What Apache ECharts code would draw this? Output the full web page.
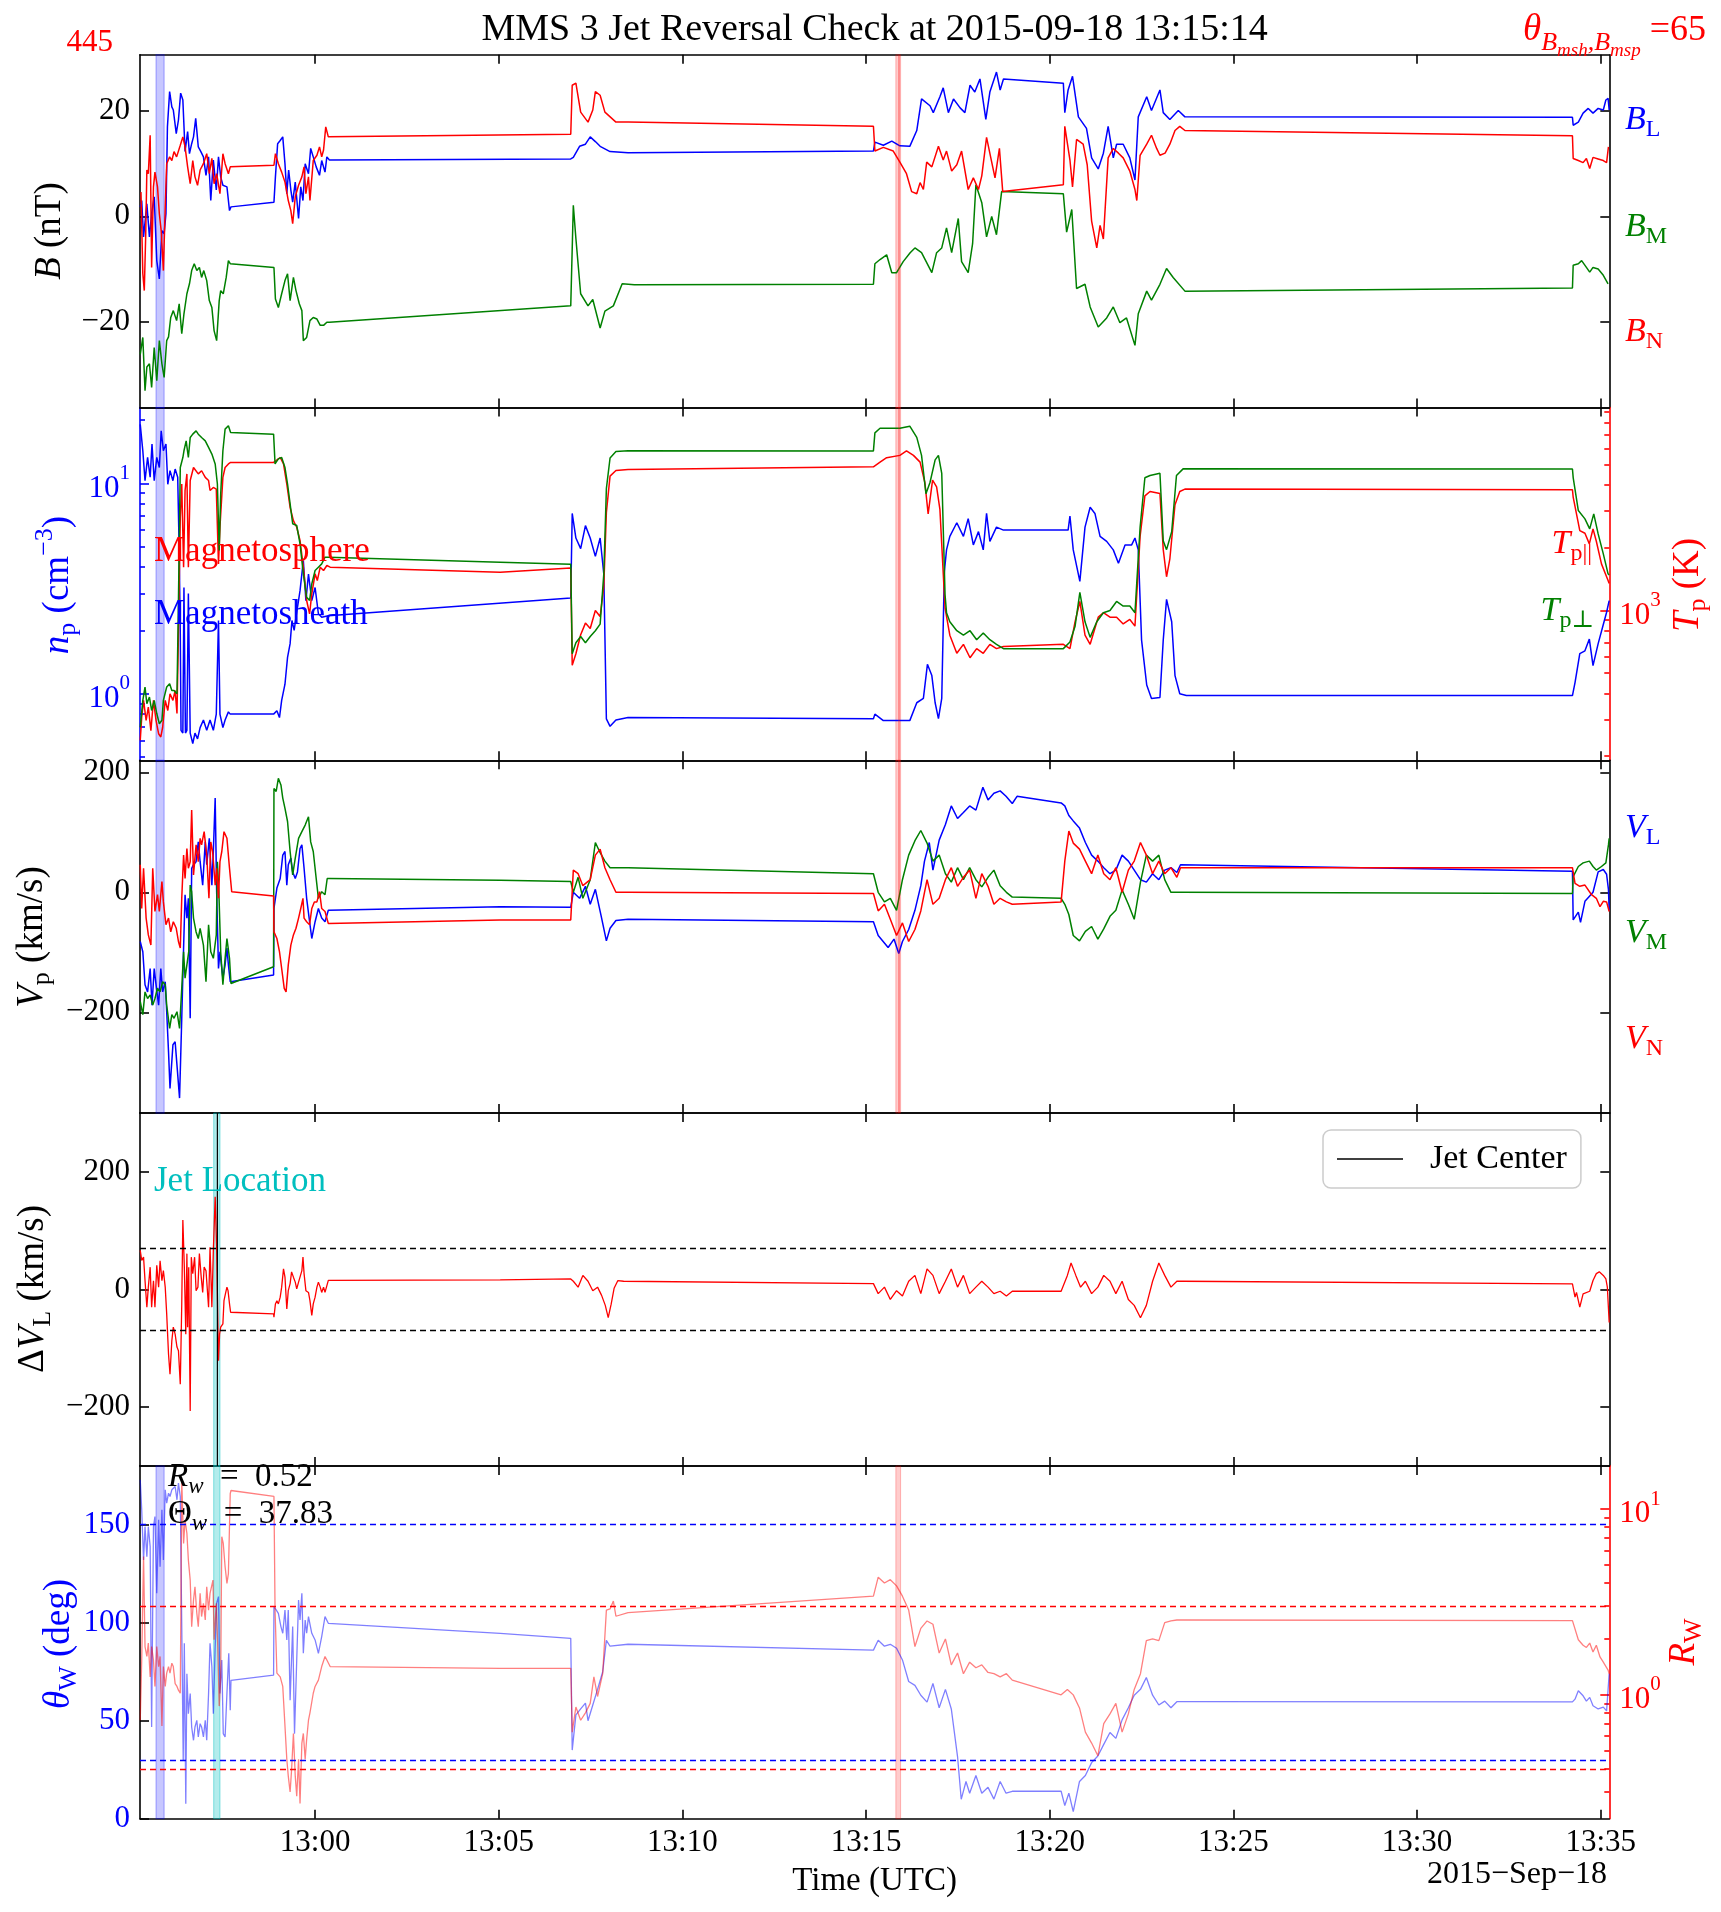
<!DOCTYPE html>
<html>
<head>
<meta charset="utf-8">
<title>MMS 3 Jet Reversal Check</title>
<script src="https://cdn.jsdelivr.net/npm/echarts@6/dist/echarts.min.js"></script>
<style>
  html, body { margin: 0; padding: 0; background: #fff; }
  #main { width: 1721px; height: 1912px; }
</style>
</head>
<body>
<div id="main"></div>
<script>
// time axis: minutes after 13:00 UTC on 2015-09-18
const tStart = -286 / 60;   // 12:55:14
const tEnd = 2114 / 60;     // 13:35:14
const timeTicks = [0, 5, 10, 15, 20, 25, 30, 35];

// axis extents and ticks
const bRange = [-36.3, 30.7];
const bTicks = [-20, 0, 20];
const npRange = [0.4825, 22.96];
const npMajor = [1, 10];
const npMinor = [0.5, 0.6, 0.7, 0.8, 0.9, 2, 3, 4, 5, 6, 7, 8, 9, 20];
const tpRange = [190.8, 9440];
const tpMajor = [1000];
const tpMinor = [200, 300, 400, 500, 600, 700, 800, 900, 2000, 3000, 4000, 5000, 6000, 7000, 8000, 9000];
const vRange = [-368, 220];
const vTicks = [-200, 0, 200];
const dvRange = [-300, 300];
const dvTicks = [-200, 0, 200];
const thRange = [0, 180];
const thTicks = [0, 50, 100, 150];
const rwRange = [0.2154, 17.09];
const rwMajor = [1, 10];
const rwMinor = [0.3, 0.4, 0.5, 0.6, 0.7, 0.8, 0.9, 2, 3, 4, 5, 6, 7, 8, 9];

// reference levels and marked intervals (minutes)
const dvLimits = [70, -70];
const thLimits = [150, 30];
const rwLimits = [3.0, 0.4];
const blueBand = [-4.33, -4.11];
const redBand = [15.81, 15.94];
const redLine = 15.875;
const jetBand = [-2.76, -2.59];
const jetCenter = -2.66;

// magnetic field (nT)
const bL = [[-4.76,1.8],[-4.72,3],[-4.67,-3.9],[-4.58,2.4],[-4.51,-3.9],[-4.45,0.5],[-4.38,3.7],[-4.31,-8.4],[-4.24,-11.9],[-4.17,-2.7],[-4.11,-3.3],[-4.06,0.5],[-4.02,17],[-3.96,23.7],[-3.90,20.8],[-3.86,20.2],[-3.78,15.7],[-3.72,18.3],[-3.66,23.4],[-3.60,22.1],[-3.54,12.3],[-3.47,16.1],[-3.42,11.9],[-3.36,13.8],[-3.31,15.1],[-3.25,18.6],[-3.18,13.2],[-3.11,12.3],[-3.04,11.3],[-2.97,7.8],[-2.90,11.3],[-2.84,3],[-2.77,10.7],[-2.69,5],[-2.63,11.3],[-2.57,7.5],[-2.51,5.9],[-2.40,5.6],[-2.33,1.1],[-2.29,1.8],
  [-1.12,2.7],[-1.08,7.5],[-1.02,13.8],[-0.95,14.4],[-0.88,15.1],[-0.82,10],[-0.77,4.3],[-0.72,8.8],[-0.66,5],[-0.61,2.7],[-0.54,6.5],[-0.45,-0.4],[-0.39,5.6],[-0.33,3],[-0.27,10],[-0.18,8.1],[-0.12,12.9],[-0.05,11.3],[0.03,9.4],[0.12,7.8],[0.18,10.6],[0.27,8.4],[0.32,11.3],[0.39,10.7],
  [6.96,10.9],[7.03,11.2],[7.20,13.3],[7.36,13.7],[7.49,15.1],[7.63,14.2],[7.76,13.3],[8.03,12.3],[8.52,12.1],[15.20,12.4],
  [15.24,14.1],[15.47,13.5],[15.70,14.3],[15.92,13.4],[16.19,13.3],[16.38,16.3],[16.51,22.3],[16.74,21],[16.83,19.7],[17.01,22.7],[17.10,24.4],[17.24,19.7],[17.38,22.3],[17.56,20.6],[17.69,19.7],[17.83,24.9],[17.96,23.6],[18.10,26.1],[18.26,18.4],[18.37,23.6],[18.55,27.4],[18.65,24],[18.74,26.1],
  [20.37,25.3],[20.41,19.7],[20.50,24],[20.62,26.6],[20.78,18.9],[21.00,16.7],[21.14,11.1],[21.32,9],[21.46,12],[21.59,17.1],[21.73,11.1],[21.82,13.7],[22.00,13.7],[22.18,11.1],[22.32,6.9],[22.41,18.9],[22.64,22.7],[22.77,20.1],[23.00,24],[23.09,19.7],[23.27,18.4],[23.50,20.1],[23.68,18.9],
  [34.23,18.8],[34.25,17.3],[34.39,17.9],[34.52,19.6],[34.66,20.5],[34.79,19.6],[34.93,20.5],[35.07,20.2],[35.14,22.1],[35.20,22.4],[35.23,20.2]];
const bM = [[-4.76,-26.2],[-4.69,-23],[-4.63,-33.1],[-4.58,-28.6],[-4.51,-28],[-4.45,-32.5],[-4.38,-24.9],[-4.31,-31.2],[-4.24,-23.6],[-4.17,-28],[-4.11,-30.6],[-4.04,-23.6],[-3.99,-22.9],[-3.93,-19.2],[-3.86,-17.9],[-3.77,-19.8],[-3.70,-16.6],[-3.63,-22.3],[-3.57,-18.5],[-3.49,-14.7],[-3.42,-12.8],[-3.36,-10.3],[-3.29,-9],[-3.22,-10.3],[-3.15,-9.7],[-3.09,-11.6],[-3.03,-10.3],[-2.95,-12.2],[-2.88,-16],[-2.81,-17.3],[-2.75,-21.7],[-2.68,-23.6],[-2.61,-16],[-2.57,-14.1],[-2.50,-14.7],[-2.42,-11.6],[-2.36,-8.4],[-2.31,-9],
  [-1.12,-9.7],[-1.08,-15.7],[-1.00,-17.3],[-0.91,-14.7],[-0.82,-12.2],[-0.75,-10.9],[-0.68,-16],[-0.59,-11.6],[-0.52,-14.1],[-0.43,-16.6],[-0.36,-17.9],[-0.32,-23.6],[-0.23,-23],[-0.14,-19.8],[-0.05,-19.2],[0.05,-19.5],[0.14,-20.7],[0.23,-20.7],[0.32,-20.1],[0.39,-20.1],
  [6.96,-17.0],[7.03,2.1],[7.10,-4.2],[7.23,-14.7],[7.43,-17],[7.56,-15.8],[7.76,-21.2],[7.89,-18],[8.12,-17],[8.36,-12.8],[8.69,-13],[15.20,-12.9],
  [15.24,-9.0],[15.38,-8.2],[15.56,-7.3],[15.70,-10.7],[15.83,-10.7],[16.01,-8.6],[16.20,-6.9],[16.33,-6],[16.51,-6.9],[16.79,-10.7],[16.92,-6.9],[17.06,-6],[17.19,-2.2],[17.33,-6.9],[17.51,-0.4],[17.60,-8.6],[17.78,-10.7],[17.90,-5.2],[17.99,6],[18.15,2.6],[18.28,-3.9],[18.42,0],[18.55,-3.5],[18.69,4.7],
  [20.37,4.3],[20.46,-3],[20.60,1.3],[20.73,-13.7],[20.96,-12.9],[21.10,-17.2],[21.32,-21],[21.55,-19.3],[21.73,-17.2],[21.91,-20.2],[22.09,-19.3],[22.32,-24.5],[22.41,-18.5],[22.64,-14.2],[22.77,-15.9],[23.00,-12.9],[23.18,-9.9],[23.36,-11.6],[23.68,-14.2],
  [34.23,-13.6],[34.25,-9.3],[34.39,-9.0],[34.48,-8.4],[34.61,-9.7],[34.70,-10.6],[34.79,-9.7],[34.93,-10.0],[35.07,-11.2],[35.20,-12.8]];
const bN = [[-4.74,4.6],[-4.69,-10.9],[-4.65,-14.1],[-4.61,-3.2],[-4.58,8.8],[-4.54,8.1],[-4.49,15.4],[-4.45,-9.7],[-4.40,5.6],[-4.36,8.4],[-4.29,5.6],[-4.24,0.5],[-4.19,-2.7],[-4.13,-10.3],[-4.08,1.8],[-4.04,10],[-3.96,11.3],[-3.90,10.6],[-3.84,12.3],[-3.77,11.3],[-3.67,13.5],[-3.60,15.1],[-3.54,13.2],[-3.47,9.4],[-3.40,6.2],[-3.33,10.6],[-3.27,7.5],[-3.20,5.9],[-3.13,8.8],[-3.04,10],[-2.95,11.9],[-2.88,8.1],[-2.81,11],[-2.75,6.2],[-2.68,8.1],[-2.59,4.3],[-2.51,11.9],[-2.45,10],[-2.36,8.1],[-2.31,9.4],
  [-1.12,9.7],[-1.08,11.9],[-1.00,10],[-0.91,8.4],[-0.82,6.5],[-0.73,3],[-0.66,1.1],[-0.61,-1.4],[-0.54,3.7],[-0.45,5.9],[-0.36,7.5],[-0.30,9.4],[-0.25,4.3],[-0.18,7.5],[-0.14,3],[-0.05,10.6],[0.05,11.6],[0.12,13.2],[0.18,11.3],[0.23,12.6],[0.29,17],[0.36,15.1],[0.41,14.8],
  [6.96,15.6],[7.00,24.9],[7.10,25.3],[7.23,19.8],[7.43,17.9],[7.56,20.2],[7.63,23.7],[7.76,23],[7.89,19.8],[8.19,17.9],[8.52,17.9],[15.20,17.1],
  [15.24,12.4],[15.47,13.1],[15.74,12.4],[15.92,10.3],[16.10,8.1],[16.24,4.7],[16.38,4.3],[16.47,6.4],[16.56,5.1],[16.65,10.3],[16.79,9.4],[16.97,13.3],[17.10,10.7],[17.19,12.4],[17.33,8.6],[17.47,9.8],[17.60,12.4],[17.78,5.1],[17.92,7.3],[18.06,5.1],[18.15,7.7],[18.28,15],[18.42,10.3],[18.51,7.3],[18.63,12.9],[18.72,4.7],
  [20.37,6],[20.41,17.1],[20.55,10.7],[20.62,5.6],[20.73,14.6],[20.91,13.7],[21.02,9.8],[21.14,-0.9],[21.28,-6],[21.37,-1.7],[21.46,-4.3],[21.59,11.1],[21.73,12.9],[21.87,12],[22.00,11.1],[22.18,8.6],[22.32,5.1],[22.37,3],[22.46,11.6],[22.64,13.7],[22.77,15.4],[22.91,12.9],[23.00,11.6],[23.14,12],[23.27,13.7],[23.41,16.3],[23.54,17.1],[23.68,16.3],
  [34.23,15.3],[34.25,11],[34.39,10.6],[34.52,10.2],[34.61,11],[34.70,9.1],[34.79,11.2],[34.93,10.9],[35.07,10.6],[35.16,10.2],[35.21,13.2]];

// proton density (cm^-3)
const np = [[-4.76,19.1],[-4.69,14.3],[-4.63,10.3],[-4.56,13.3],[-4.49,10.7],[-4.44,15.4],[-4.38,10.3],[-4.31,13.3],[-4.24,11.9],[-4.19,17.8],[-4.13,14.3],[-4.06,15.4],[-4.01,9.9],[-3.95,11.5],[-3.87,10.3],[-3.81,11.7],[-3.74,10.7],[-3.70,4.8],[-3.67,1.93],[-3.65,0.67],[-3.60,0.65],[-3.57,3.2],[-3.53,0.65],[-3.49,0.67],[-3.45,3.0],[-3.40,0.65],[-3.33,0.58],[-3.27,0.65],[-3.20,0.61],[-3.13,0.69],[-3.04,0.75],[-2.95,0.67],[-2.86,0.75],[-2.77,0.67],[-2.69,0.80],[-2.63,2.23],[-2.59,0.80],[-2.51,0.69],[-2.45,0.75],[-2.36,0.82],[-2.31,0.80],
  [-1.13,0.80],[-1.04,0.83],[-0.97,0.77],[-0.91,0.93],[-0.82,1.11],[-0.75,1.49],[-0.68,1.73],[-0.63,2.23],[-0.57,2.0],[-0.52,2.31],[-0.41,3.09],[-0.32,4.3],[-0.25,2.77],[-0.18,3.71],[-0.09,2.77],[0.00,3.2],[0.09,2.4],[0.18,2.31],[0.36,2.35],
  [6.96,2.85],[7.00,7.2],[7.10,5.5],[7.23,4.9],[7.36,6.3],[7.49,5.5],[7.63,4.5],[7.76,5.5],[7.86,3.7],[7.93,0.76],[8.03,0.70],[8.19,0.75],[8.52,0.77],[15.20,0.76],
  [15.24,0.80],[15.47,0.745],[15.92,0.745],[16.19,0.745],[16.38,0.906],[16.56,0.95],[16.67,1.38],[16.79,1.22],[16.88,0.906],[16.97,0.762],[17.06,0.95],[17.13,3.78],[17.19,4.83],[17.28,5.6],[17.47,6.5],[17.65,5.6],[17.78,6.8],[17.92,5.1],[18.06,5.9],[18.19,4.83],[18.28,7.2],[18.37,5.3],[18.55,6.2],[18.74,6.0],
  [20.50,6.0],[20.55,7.0],[20.64,4.83],[20.82,3.42],[20.96,6.2],[21.10,7.7],[21.23,7.2],[21.37,5.6],[21.55,5.3],[21.73,4.83],[21.87,4.17],[22.05,5.1],[22.23,5.1],[22.32,5.5],[22.41,4.83],[22.50,1.8],[22.64,1.1],[22.77,0.95],[23.00,0.96],[23.09,1.8],[23.18,2.81],[23.32,2.2],[23.41,1.22],[23.54,1.0],[23.72,0.98],
  [34.23,0.98],[34.30,1.13],[34.43,1.55],[34.57,1.6],[34.69,1.82],[34.79,1.36],[34.93,1.73],[35.05,2.07],[35.16,2.44],[35.23,2.77]];

// proton temperature (K)
const tPar = [[-4.76,238],[-4.72,307],[-4.67,370],[-4.60,297],[-4.54,344],[-4.47,265],[-4.40,370],[-4.33,297],[-4.26,256],[-4.20,247],[-4.15,275],[-4.08,370],[-4.01,331],[-3.95,398],[-3.87,370],[-3.81,413],[-3.76,320],[-3.72,773],[-3.67,2800],[-3.63,4050],[-3.58,1615],[-3.54,3770],[-3.49,4530],[-3.45,1615],[-3.40,4210],[-3.31,4860],[-3.18,4530],[-3.09,4690],[-2.99,4360],[-2.90,4210],[-2.86,3770],[-2.77,3900],[-2.69,3830],[-2.63,1675],[-2.59,2510],[-2.51,4360],[-2.45,4860],[-2.36,5060],[-2.30,5140],
  [-1.13,5140],[-1.09,5240],[-0.95,5430],[-0.86,5060],[-0.77,4050],[-0.68,3125],[-0.59,2700],[-0.50,2510],[-0.41,2170],[-0.32,1615],[-0.23,1117],[-0.15,963],[-0.09,1202],[0.00,1500],[0.06,1393],[0.14,1615],[0.23,1556],[0.32,1645],[0.41,1615],
  [5.04,1527],[6.96,1600],[7.00,546],[7.10,620],[7.23,765],[7.36,870],[7.49,820],[7.63,1000],[7.76,935],[7.86,1310],[7.93,2960],[8.03,4420],[8.19,4700],[8.52,4750],[15.20,4900],
  [15.24,4910],[15.38,5160],[15.56,5420],[15.92,5560],[16.10,5840],[16.29,5560],[16.47,5160],[16.60,4120],[16.69,2910],[16.81,4230],[16.92,3920],[17.01,3060],[17.15,1026],[17.28,761],[17.47,623],[17.65,688],[17.83,593],[18.01,656],[18.19,623],[18.37,688],[18.55,656],[18.74,672],
  [20.37,688],[20.55,656],[20.69,883],[20.82,1105],[20.96,761],[21.10,688],[21.32,929],[21.46,976],[21.64,929],[21.82,929],[22.00,862],[22.18,906],[22.32,841],[22.46,2270],[22.59,3550],[22.73,3730],[23.00,3650],[23.09,1960],[23.18,1452],[23.27,1772],[23.41,3220],[23.54,3730],[23.68,3830],
  [34.23,3800],[34.25,3500],[34.43,2420],[34.57,2350],[34.69,2090],[34.79,2466],[34.88,2150],[35.02,1675],[35.20,1393],[35.23,1350]];
const tPerp = [[-4.76,275],[-4.69,370],[-4.63,429],[-4.58,357],[-4.51,384],[-4.45,331],[-4.38,370],[-4.31,320],[-4.24,286],[-4.17,297],[-4.13,370],[-4.04,429],[-3.96,445],[-3.90,413],[-3.84,413],[-3.76,398],[-3.72,1117],[-3.67,4860],[-3.60,5430],[-3.57,5850],[-3.51,6530],[-3.45,5430],[-3.40,6770],[-3.33,7030],[-3.24,7290],[-3.18,7030],[-3.09,6770],[-2.99,6530],[-2.90,6070],[-2.81,5640],[-2.72,5060],[-2.66,4050],[-2.61,1940],[-2.57,3630],[-2.51,5850],[-2.45,7430],[-2.36,7710],[-2.30,7160],
  [-1.13,7030],[-1.09,5060],[-1.00,5350],[-0.91,5430],[-0.82,4860],[-0.75,4050],[-0.68,3250],[-0.61,2610],[-0.50,2560],[-0.41,2090],[-0.32,1500],[-0.23,1159],[-0.15,1117],[-0.09,1343],[0.00,1556],[0.09,1615],[0.18,1675],[0.27,1804],[0.36,1804],
  [5.04,1706],[6.96,1670],[7.00,620],[7.10,700],[7.23,750],[7.36,700],[7.49,750],[7.63,800],[7.76,860],[7.86,1500],[7.93,3850],[8.03,5400],[8.19,5800],[8.52,5850],[15.20,5840],
  [15.24,7130],[15.38,7500],[15.92,7500],[16.19,7680],[16.38,6780],[16.51,5560],[16.63,3640],[16.74,4120],[16.88,5290],[16.97,5560],[17.06,4560],[17.15,1190],[17.19,976],[17.28,883],[17.47,800],[17.65,761],[17.83,800],[18.01,724],[18.19,780],[18.37,724],[18.55,688],[18.74,656],
  [20.37,656],[20.55,706],[20.69,841],[20.82,1221],[20.96,883],[21.10,743],[21.28,883],[21.46,976],[21.64,1000],[21.82,1105],[22.00,1051],[22.18,1051],[22.32,976],[22.46,2510],[22.59,4340],[22.73,4450],[23.00,4560],[23.09,2160],[23.18,1960],[23.32,2390],[23.45,4450],[23.63,4790],
  [34.23,4780],[34.25,4350],[34.39,3020],[34.57,2755],[34.70,2466],[34.81,2910],[34.93,2333],[35.07,1870],[35.20,1500],[35.23,1480]];

// proton velocity (km/s)
const vL = [[-4.76,-82],[-4.69,-99],[-4.63,-154],[-4.56,-166],[-4.49,-127],[-4.44,-188],[-4.38,-127],[-4.33,-154],[-4.26,-188],[-4.20,-127],[-4.15,-166],[-4.08,-149],[-4.04,-199],[-3.99,-266],[-3.95,-327],[-3.87,-254],[-3.81,-249],[-3.76,-288],[-3.69,-343],[-3.63,-210],[-3.58,-93],[-3.54,-4],[-3.49,-43],[-3.45,-10],[-3.40,-210],[-3.36,40],[-3.31,46],[-3.24,51],[-3.18,84],[-3.13,51],[-3.06,12],[-2.99,84],[-2.95,46],[-2.88,90],[-2.81,12],[-2.77,68],[-2.72,157],[-2.68,1],[-2.63,-127],[-2.59,-99],[-2.51,-143],[-2.45,-121],[-2.40,-93],[-2.36,-121],[-2.31,-149],
  [-1.13,-138],[-1.12,-27],[-1.04,7],[-0.95,23],[-0.88,62],[-0.82,68],[-0.77,12],[-0.73,46],[-0.66,57],[-0.61,34],[-0.54,23],[-0.48,34],[-0.41,73],[-0.36,79],[-0.30,40],[-0.23,-10],[-0.15,-49],[-0.09,-77],[0.00,-49],[0.09,-27],[0.18,-43],[0.27,-49],[0.36,-30],
  [5.04,-24],[6.96,-25],[7.03,0],[7.20,-10],[7.36,10],[7.49,-20],[7.63,5],[7.79,-40],[7.93,-81],[8.03,-60],[8.19,-47],[8.52,-45],[15.20,-49],
  [15.33,-72],[15.60,-92],[15.76,-78],[15.89,-102],[15.99,-82],[16.16,-62],[16.33,-30],[16.49,11],[16.59,52],[16.72,83],[16.82,37],[16.99,87],[17.16,113],[17.32,144],[17.49,123],[17.65,133],[17.82,144],[17.99,137],[18.18,175],[18.32,154],[18.48,165],[18.65,169],[18.81,160],[18.98,148],[19.11,160],
  [20.31,149],[20.41,144],[20.52,128],[20.64,119],[20.81,107],[20.97,83],[21.14,62],[21.31,52],[21.47,41],[21.64,31],[21.80,37],[21.97,62],[22.14,52],[22.30,37],[22.47,21],[22.63,17],[22.80,31],[22.97,21],[23.13,37],[23.30,41],[23.46,33],[23.56,46],
  [34.23,35],[34.25,-46],[34.39,-33],[34.45,-50],[34.57,-15],[34.70,-6],[34.79,0],[34.93,34],[35.07,38],[35.16,30],[35.21,5],[35.23,-30]];
const vM = [[-4.76,-182],[-4.69,-204],[-4.63,-166],[-4.56,-177],[-4.49,-171],[-4.42,-188],[-4.36,-177],[-4.29,-160],[-4.22,-166],[-4.15,-149],[-4.08,-154],[-4.04,-188],[-3.96,-227],[-3.90,-204],[-3.84,-210],[-3.76,-199],[-3.69,-227],[-3.63,-160],[-3.58,-99],[-3.54,-143],[-3.49,-121],[-3.44,-99],[-3.40,12],[-3.36,1],[-3.31,-43],[-3.24,-66],[-3.18,-77],[-3.13,-60],[-3.04,-88],[-2.97,-149],[-2.90,-54],[-2.84,-99],[-2.77,-110],[-2.69,-71],[-2.66,51],[-2.62,1],[-2.57,-99],[-2.51,-154],[-2.45,-110],[-2.40,-77],[-2.33,-110],[-2.29,-152],
  [-1.13,-124],[-1.12,173],[-1.06,168],[-1.00,190],[-0.93,179],[-0.88,157],[-0.82,140],[-0.75,118],[-0.68,68],[-0.61,29],[-0.54,57],[-0.45,90],[-0.36,101],[-0.27,112],[-0.18,126],[-0.12,84],[-0.05,68],[0.03,23],[0.09,-10],[0.18,1],[0.27,-4],[0.33,23],[0.39,23],
  [5.04,20],[6.96,18],[7.03,0],[7.16,25],[7.29,-10],[7.49,21],[7.63,83],[7.76,66],[7.89,52],[8.03,41],[8.52,41],[15.20,31],
  [15.33,0],[15.50,-16],[15.66,-10],[15.83,-30],[15.99,21],[16.16,62],[16.33,86],[16.49,103],[16.66,82],[16.82,52],[16.99,62],[17.16,31],[17.32,17],[17.49,41],[17.65,21],[17.82,41],[17.99,21],[18.15,9],[18.32,25],[18.48,37],[18.65,11],[18.82,0],[18.98,-8],
  [20.31,-10],[20.41,-20],[20.52,-37],[20.64,-72],[20.81,-81],[20.97,-65],[21.14,-57],[21.31,-78],[21.47,-61],[21.64,-40],[21.80,-30],[21.97,4],[22.14,-20],[22.30,-45],[22.47,17],[22.63,62],[22.80,52],[22.97,62],[23.13,21],[23.30,0],[23.46,0],[23.56,0],
  [34.23,-2],[34.25,26],[34.39,43],[34.52,49],[34.69,52],[34.79,43],[34.88,37],[35.02,43],[35.14,49],[35.21,79],[35.23,90]];
const vN = [[-4.76,46],[-4.72,-27],[-4.67,40],[-4.60,-43],[-4.54,-71],[-4.47,-88],[-4.42,40],[-4.36,-32],[-4.29,-4],[-4.24,-32],[-4.17,18],[-4.13,-16],[-4.06,-54],[-3.99,-43],[-3.93,-66],[-3.86,-49],[-3.78,-60],[-3.72,-82],[-3.67,-93],[-3.63,-10],[-3.58,62],[-3.54,23],[-3.49,73],[-3.45,40],[-3.40,51],[-3.36,137],[-3.31,29],[-3.24,79],[-3.18,51],[-3.13,90],[-3.09,79],[-3.02,101],[-2.95,62],[-2.89,-10],[-2.84,84],[-2.79,68],[-2.72,12],[-2.68,40],[-2.63,-10],[-2.59,51],[-2.54,68],[-2.48,101],[-2.40,90],[-2.33,40],[-2.27,1],
  [-1.13,-6],[-1.12,-66],[-1.04,-77],[-0.97,-99],[-0.91,-127],[-0.84,-160],[-0.79,-166],[-0.73,-121],[-0.66,-88],[-0.59,-71],[-0.52,-60],[-0.45,-43],[-0.39,-27],[-0.33,-10],[-0.30,-43],[-0.23,-49],[-0.15,-54],[-0.09,-27],[-0.02,-16],[0.05,-16],[0.12,1],[0.18,-27],[0.27,-32],[0.36,-52],
  [5.04,-46],[6.96,-46],[7.03,37],[7.16,31],[7.29,11],[7.49,21],[7.63,62],[7.76,72],[7.89,41],[8.03,21],[8.19,0],[8.52,0],[15.20,-2],
  [15.33,-31],[15.50,-20],[15.66,-45],[15.83,-72],[15.99,-51],[16.16,-82],[16.33,-62],[16.49,-31],[16.66,21],[16.82,-20],[16.99,-10],[17.16,21],[17.32,41],[17.49,10],[17.65,25],[17.82,37],[17.99,-10],[18.15,31],[18.32,10],[18.48,-20],[18.65,-10],[18.82,-16],[18.98,-20],
  [20.31,-16],[20.41,52],[20.52,102],[20.64,82],[20.81,72],[20.97,52],[21.14,31],[21.31,62],[21.47,31],[21.64,21],[21.80,41],[21.97,0],[22.14,37],[22.30,52],[22.47,83],[22.63,62],[22.80,31],[22.97,52],[23.13,31],[23.30,41],[23.46,25],[23.56,41],
  [34.23,41],[34.30,15],[34.43,10],[34.57,12],[34.75,-4],[34.88,-10],[34.98,-24],[35.07,-15],[35.16,-16],[35.23,-32]];

// Delta V_L (km/s)
const dVL = [[-4.76,66.5],[-4.72,49.5],[-4.67,55],[-4.63,15.4],[-4.58,-30],[-4.54,4],[-4.49,38],[-4.45,-30],[-4.40,15],[-4.36,-30],[-4.31,41],[-4.26,4],[-4.22,49],[-4.17,15],[-4.13,32],[-4.08,4],[-4.04,-41.5],[-3.99,-110],[-3.95,-144],[-3.90,-87],[-3.86,-64],[-3.81,-76],[-3.76,-98],[-3.72,-104],[-3.67,-161],[-3.63,-24.5],[-3.60,118],[-3.56,38],[-3.52,-76],[-3.49,61],[-3.47,-64],[-3.44,38],[-3.40,-206.5],[-3.37,55],[-3.33,27],[-3.28,55],[-3.24,-2],[-3.19,4],[-3.15,61],[-3.10,21],[-3.06,-5],[-3.02,38],[-2.97,32],[-2.90,-30],[-2.86,72],[-2.81,-30],[-2.77,66.5],[-2.72,157.5],[-2.68,72],[-2.63,-121],[-2.60,-76],[-2.57,-64],[-2.51,-58.5],[-2.48,-18.8],[-2.44,-7],[-2.40,4],[-2.37,-2],[-2.33,-24.5],[-2.30,-38.7],
  [-1.13,-41.5],[-1.12,-47],[-1.08,-24.5],[-1.04,-19],[-1.00,-24.5],[-0.95,-13],[-0.91,4],[-0.86,35],[-0.82,21],[-0.77,-33],[-0.73,-2],[-0.68,10],[-0.64,30],[-0.59,21],[-0.54,12.5],[-0.50,1],[-0.45,12.5],[-0.41,12.5],[-0.36,32],[-0.33,55],[-0.30,27],[-0.25,-2],[-0.18,-5],[-0.14,-19],[-0.09,-44],[-0.05,-24.5],[0.00,-13],[0.05,4],[0.09,12.5],[0.14,4],[0.18,-5],[0.23,4],[0.27,-5],[0.32,-5],[0.36,15.4],
  [5.04,16.5],[6.96,18],[7.03,14],[7.16,4],[7.29,24],[7.43,14],[7.56,-2],[7.69,4],[7.80,-10],[7.90,-27],[7.98,-48],[8.06,-25],[8.14,2],[8.24,15],[8.40,14],[15.20,10],
  [15.33,-7],[15.50,4],[15.66,-17],[15.83,-2],[15.99,-11],[16.16,14],[16.33,24],[16.49,-7],[16.66,35],[16.82,24],[16.99,-7],[17.16,14],[17.32,35],[17.49,4],[17.65,24],[17.82,-7],[17.99,4],[18.15,14],[18.32,4],[18.48,-7],[18.65,-3],[18.82,-11],[18.98,-3],
  [20.31,-3],[20.48,24],[20.58,45],[20.71,24],[20.84,4],[20.97,14],[21.14,-7],[21.31,4],[21.47,24],[21.64,14],[21.80,-7],[21.97,14],[22.14,-17],[22.30,-27],[22.47,-48],[22.63,-27],[22.80,14],[22.97,45],[23.13,24],[23.30,4],[23.46,14],[23.63,14],
  [34.23,9.7],[34.30,-13],[34.34,-5],[34.43,-30],[34.52,-7.4],[34.57,-5],[34.70,-3],[34.79,15.4],[34.88,27],[34.96,30],[35.07,24],[35.14,18],[35.18,4],[35.23,-56]];

// Walen test: angle (deg) and ratio
const thW = [[-4.76,172.9],[-4.72,157.6],[-4.67,132],[-4.63,149],[-4.58,133.7],[-4.54,149],[-4.49,138.9],[-4.45,46.8],[-4.40,149],[-4.36,154.2],[-4.31,115],[-4.26,152.5],[-4.22,128.6],[-4.17,157.6],[-4.13,132],[-4.08,167.8],[-4.04,161],[-3.99,166.1],[-3.95,164.4],[-3.90,167.8],[-3.86,167],[-3.81,169.5],[-3.76,162.7],[-3.72,171.2],[-3.67,164.4],[-3.63,98],[-3.59,29.8],[-3.56,89.5],[-3.52,7.6],[-3.49,74],[-3.45,53.6],[-3.40,63.9],[-3.36,46.8],[-3.31,40],[-3.27,46.8],[-3.22,50.2],[-3.18,41.7],[-3.13,48.5],[-3.09,46.8],[-3.04,41.7],[-2.99,50.2],[-2.95,40],[-2.90,63.9],[-2.86,89.5],[-2.81,77.6],[-2.77,53.6],[-2.72,87.8],[-2.68,109.9],[-2.63,113.3],[-2.59,63.9],[-2.54,81],[-2.50,43.4],[-2.45,41.7],[-2.40,63.9],[-2.35,84.4],[-2.31,55.3],[-2.29,70.6],
  [-1.13,73.2],[-1.12,108.2],[-1.06,106.5],[-1.00,104.8],[-0.93,98],[-0.88,94.6],[-0.82,106.5],[-0.77,91.2],[-0.73,106.5],[-0.68,60.5],[-0.61,98],[-0.56,43.4],[-0.50,81],[-0.45,111.6],[-0.41,101.4],[-0.36,115],[-0.32,84.4],[-0.27,101.4],[-0.23,94.6],[-0.18,103.1],[-0.09,94.6],[0.00,91.2],[0.09,84.4],[0.18,92.9],[0.27,103.1],[0.36,99.7],
  [5.04,94.6],[6.96,92],[7.00,35],[7.10,53],[7.23,56],[7.36,59],[7.43,50],[7.56,58],[7.69,66],[7.83,75],[7.93,91],[8.03,88],[8.52,89],[15.20,86],
  [15.33,91],[15.50,88],[15.66,89],[15.83,87],[15.99,81],[16.16,70],[16.33,68],[16.49,63],[16.66,59.5],[16.82,69],[16.99,56.6],[17.16,66],[17.32,56],[17.49,31.7],[17.59,9.9],[17.72,19],[17.82,13],[17.99,22],[18.15,13],[18.32,16],[18.48,10],[18.65,19],[18.81,13],[18.98,14],
  [20.31,14],[20.41,6.7],[20.52,13],[20.64,3.6],[20.81,19],[20.97,22],[21.14,28.6],[21.31,32],[21.47,37.9],[21.64,44],[21.80,41],[21.97,50.4],[22.14,56.6],[22.30,63],[22.47,66],[22.63,72],[22.80,63],[22.97,58],[23.13,60],[23.30,56.6],[23.46,59.7],[23.63,59.7],
  [34.23,59.6],[34.30,61],[34.39,65.3],[34.52,62.7],[34.61,60],[34.70,61.9],[34.79,57.6],[34.93,56],[35.07,56.9],[35.16,55],[35.23,74]];
const rW = [[-4.76,0.73],[-4.72,1.54],[-4.67,5.55],[-4.63,1.82],[-4.58,1.61],[-4.54,1.90],[-4.49,1.25],[-4.45,1.82],[-4.40,1.54],[-4.36,1.11],[-4.31,1.82],[-4.26,1.42],[-4.22,1.61],[-4.17,0.68],[-4.13,1.42],[-4.08,1.11],[-4.04,1.31],[-3.99,1.42],[-3.95,1.31],[-3.90,1.48],[-3.86,1.42],[-3.81,1.15],[-3.76,1.11],[-3.72,1.06],[-3.67,1.02],[-3.63,14.3],[-3.58,6.53],[-3.54,8.73],[-3.49,7.4],[-3.45,5.32],[-3.40,4.15],[-3.36,2.33],[-3.31,3.24],[-3.27,3.82],[-3.22,2.75],[-3.18,2.33],[-3.13,3.52],[-3.09,2.64],[-3.04,3.11],[-2.99,2.53],[-2.95,3.82],[-2.90,2.86],[-2.86,3.52],[-2.78,4.15],[-2.75,1.98],[-2.69,3.11],[-2.65,1.82],[-2.61,0.87],[-2.57,1.25],[-2.54,7.1],[-2.50,6.53],[-2.45,4.9],[-2.40,3.98],[-2.36,4.5],[-2.31,12.1],[-2.29,12.6],
  [-1.12,11.7],[-1.09,2.86],[-1.04,1.31],[-0.95,1.25],[-0.88,1.11],[-0.82,0.68],[-0.77,0.45],[-0.73,0.365],[-0.68,0.30],[-0.64,0.395],[-0.59,0.62],[-0.54,0.365],[-0.50,0.285],[-0.45,0.45],[-0.41,0.26],[-0.36,0.55],[-0.32,0.62],[-0.27,0.45],[-0.23,0.575],[-0.18,0.73],[-0.14,0.8],[-0.09,0.8],[-0.05,1.02],[0.00,1.11],[0.09,1.2],[0.18,1.42],[0.27,1.61],[0.32,1.54],[0.41,1.42],
  [5.04,1.39],[6.96,1.39],[7.00,0.63],[7.10,0.86],[7.23,0.73],[7.36,0.8],[7.49,0.9],[7.59,1.25],[7.69,0.98],[7.83,1.3],[7.93,2.86],[8.03,2.9],[8.12,3.2],[8.19,2.65],[8.52,2.77],[15.20,3.4],
  [15.33,4.3],[15.50,4.0],[15.66,4.17],[15.83,3.86],[15.99,3.4],[16.16,2.86],[16.33,1.82],[16.49,2.28],[16.66,2.5],[16.82,2.4],[16.99,1.68],[17.16,2.0],[17.32,1.45],[17.49,1.68],[17.65,1.3],[17.82,1.5],[17.99,1.4],[18.15,1.45],[18.32,1.32],[18.48,1.3],[18.65,1.25],[18.82,1.3],[18.98,1.2],
  [20.31,1.0],[20.48,1.07],[20.64,1.0],[20.81,0.85],[20.97,0.63],[21.14,0.55],[21.31,0.47],[21.47,0.7],[21.64,0.79],[21.80,0.9],[21.97,0.63],[22.14,0.79],[22.30,1.07],[22.47,1.3],[22.63,1.96],[22.80,2.0],[22.97,1.96],[23.13,2.45],[23.30,2.5],[23.46,2.53],[23.63,2.53],
  [34.23,2.51],[34.39,1.98],[34.52,1.85],[34.61,1.8],[34.70,1.9],[34.79,1.7],[34.88,1.85],[34.98,1.6],[35.07,1.5],[35.20,1.36],[35.23,1.3]];

const FF = "'Liberation Serif', 'DejaVu Serif', serif";
const BLUE = '#0000ff', RED = '#ff0000', GREEN = '#008000', CYAN = '#00bfbf';
const GL = 140, GW = 1469.3, GH = 352.8, GT0 = 54.7;

const chart = echarts.init(document.getElementById('main'), null, { renderer: 'canvas' });

function fmtTime(v) { return '13:' + String(v).padStart(2, '0'); }
function fmtNum(v) { return String(v).replace('-', '\u2212'); }
function fmtPow(v) { return '{b|10}{s|' + Math.round(Math.log10(v)) + '}'; }
function powRich(col) {
  return {
    b: { color: col, fontFamily: FF, fontSize: 31, padding: [10, 0, 0, 0] },
    s: { color: col, fontFamily: FF, fontSize: 21, verticalAlign: 'top' }
  };
}

const grids = [0, 1, 2, 3, 4].map(i => ({ left: GL, top: GT0 + i * GH, width: GW, height: GH }));

const xAxes = [];
for (let i = 0; i < 5; i++) {
  ['bottom', 'top'].forEach(pos => {
    const showLab = pos === 'bottom' && i === 4;
    xAxes.push({
      gridIndex: i, type: 'value', min: tStart, max: tEnd, position: pos,
      axisLine: { onZero: false, lineStyle: { color: '#000', width: 1.6 } },
      axisTick: { inside: true, length: 9, customValues: timeTicks, lineStyle: { color: '#000', width: 1.6 } },
      axisLabel: showLab
        ? { customValues: timeTicks, formatter: fmtTime, color: '#000', fontFamily: FF, fontSize: 31, margin: 9 }
        : { show: false },
      splitLine: { show: false }
    });
  });
}

function yAx(grid, pos, type, range, ticks, o) {
  o = o || {};
  const lc = o.lineColor || '#000';
  const ax = {
    gridIndex: grid, type: type, position: pos, min: range[0], max: range[1],
    axisLine: { show: o.line !== false, onZero: false, lineStyle: { color: lc, width: 1.6 } },
    axisTick: { inside: true, length: o.tickLen || 9, customValues: ticks, lineStyle: { color: o.tickColor || lc, width: 1.6 } },
    axisLabel: o.fmt
      ? { customValues: ticks, formatter: o.fmt, color: o.labelColor || '#000', fontFamily: FF, fontSize: 31, margin: 10, rich: o.rich }
      : { show: false },
    splitLine: { show: false }
  };
  if (type === 'log') ax.logBase = 10;
  return ax;
}

const yAxes = [
  yAx(0, 'left', 'value', bRange, bTicks, { fmt: fmtNum }),                         // 0
  yAx(0, 'right', 'value', bRange, bTicks, {}),                                      // 1
  yAx(1, 'left', 'log', npRange, npMajor, { fmt: fmtPow, rich: powRich(BLUE), lineColor: BLUE, labelColor: BLUE }), // 2
  yAx(1, 'left', 'log', npRange, npMinor, { line: false, tickLen: 5, tickColor: BLUE }), // 3
  yAx(1, 'right', 'log', tpRange, tpMajor, { fmt: fmtPow, rich: powRich(RED), lineColor: RED, labelColor: RED }),  // 4
  yAx(1, 'right', 'log', tpRange, tpMinor, { line: false, tickLen: 5, tickColor: RED }), // 5
  yAx(2, 'left', 'value', vRange, vTicks, { fmt: fmtNum }),                          // 6
  yAx(2, 'right', 'value', vRange, vTicks, {}),                                      // 7
  yAx(3, 'left', 'value', dvRange, dvTicks, { fmt: fmtNum }),                        // 8
  yAx(3, 'right', 'value', dvRange, dvTicks, {}),                                    // 9
  yAx(4, 'left', 'value', thRange, thTicks, { fmt: fmtNum, labelColor: BLUE }),      // 10
  yAx(4, 'right', 'log', rwRange, rwMajor, { fmt: fmtPow, rich: powRich(RED), lineColor: RED, labelColor: RED }),  // 11
  yAx(4, 'right', 'log', rwRange, rwMinor, { line: false, tickLen: 5, tickColor: RED })  // 12
];

function ln(grid, yIdx, data, color, width, extra) {
  return Object.assign({
    type: 'line', xAxisIndex: grid * 2, yAxisIndex: yIdx, data: data,
    showSymbol: false, symbol: 'none', animation: false, z: 3,
    lineStyle: { color: color, width: width || 1.5 }, itemStyle: { color: color }
  }, extra || {});
}

const bandStyle = {
  blue: { color: 'rgba(0,0,255,0.22)', borderColor: 'rgba(0,0,255,0.28)', borderWidth: 1.2 },
  red: { color: 'rgba(255,0,0,0.2)', borderColor: 'rgba(255,0,0,0.25)', borderWidth: 1 },
  cyan: { color: 'rgba(0,191,191,0.3)', borderColor: 'rgba(0,191,191,0.45)', borderWidth: 1 }
};
function bands(list) {
  return {
    silent: true,
    data: list.map(b => [{ xAxis: b[0][0], itemStyle: bandStyle[b[1]] }, { xAxis: b[0][1] }])
  };
}
function hLines(vals, color) {
  return {
    silent: true, symbol: ['none', 'none'], label: { show: false },
    lineStyle: { color: color, width: 1.4, type: [6, 4] },
    data: vals.map(v => ({ yAxis: v }))
  };
}
const redMark = {
  silent: true, symbol: ['none', 'none'], label: { show: false },
  lineStyle: { color: 'rgba(255,0,0,0.3)', width: 2, type: 'solid' },
  data: [{ xAxis: redLine }]
};
const stdBands = bands([[blueBand, 'blue'], [redBand, 'red']]);

const series = [
  ln(0, 0, bL, BLUE, 1.5, { markArea: stdBands, markLine: redMark }),
  ln(0, 0, bM, GREEN),
  ln(0, 0, bN, RED),
  ln(1, 2, np, BLUE, 1.5, { markArea: stdBands, markLine: redMark }),
  ln(1, 4, tPar, RED),
  ln(1, 4, tPerp, GREEN),
  ln(2, 6, vL, BLUE, 1.5, { markArea: stdBands, markLine: redMark }),
  ln(2, 6, vM, GREEN),
  ln(2, 6, vN, RED),
  ln(3, 8, dVL, RED, 1.3, { markArea: bands([[jetBand, 'cyan']]), markLine: hLines(dvLimits, '#000') }),
  ln(3, 8, [[jetCenter, dvRange[0]], [jetCenter, dvRange[1]]], '#000', 1.2, { name: 'Jet Center' }),
  ln(4, 10, thW, 'rgba(0,0,255,0.5)', 1.3, {
    markArea: bands([[blueBand, 'blue'], [redBand, 'red'], [jetBand, 'cyan']]),
    markLine: hLines(thLimits, BLUE)
  }),
  ln(4, 11, rW, 'rgba(255,0,0,0.5)', 1.3, { markLine: hLines(rwLimits, RED) })
];

// text helpers
function rs(col, size) {
  const sub = Math.round(size * 0.7);
  return {
    i: { fill: col, fontFamily: FF, fontSize: size, fontStyle: 'italic', padding: [7, 0, 5, 0] },
    n: { fill: col, fontFamily: FF, fontSize: size, padding: [7, 0, 5, 0] },
    s: { fill: col, fontFamily: FF, fontSize: sub, verticalAlign: 'bottom' },
    si: { fill: col, fontFamily: FF, fontSize: sub, fontStyle: 'italic', verticalAlign: 'bottom' },
    u: { fill: col, fontFamily: FF, fontSize: sub, verticalAlign: 'top' }
  };
}
function txt(x, y, text, col, size, align, rot, rich) {
  return {
    type: 'text', x: x, y: y, rotation: rot || 0, silent: true, z: 50,
    style: {
      text: text, rich: rich, fill: col, fontFamily: FF, fontSize: size,
      align: align || 'center', verticalAlign: 'middle',
      textAlign: align || 'center', textVerticalAlign: 'middle'
    }
  };
}
const V90 = Math.PI / 2;

const graphics = [
  txt(874.6, 30, 'MMS 3 Jet Reversal Check at 2015-09-18 13:15:14', '#000', 38),
  txt(113, 43, '445', RED, 31, 'right'),
  txt(1706, 36, '{i|\u03b8}{s|B}{ss|msh}{s|,B}{ss|msp}{n| =65}', RED, 31, 'right', 0, {
    i: { fill: RED, fontFamily: FF, fontSize: 37, fontStyle: 'italic', padding: [0, 0, 11, 0] },
    n: { fill: RED, fontFamily: FF, fontSize: 36, padding: [0, 0, 11, 0] },
    s: { fill: RED, fontFamily: FF, fontSize: 26, fontStyle: 'italic', verticalAlign: 'bottom', padding: [0, 0, 4, 0] },
    ss: { fill: RED, fontFamily: FF, fontSize: 19, fontStyle: 'italic', verticalAlign: 'bottom' }
  }),
  // left axis titles
  txt(49, 231, '{i|B}{n| (nT)}', '#000', 37, 'center', V90, rs('#000', 37)),
  txt(57, 585, '{i|n}{s|p}{n| (cm}{u|\u22123}{n|)}', BLUE, 37, 'center', V90, rs(BLUE, 37)),
  txt(31, 937, '{i|V}{s|p}{n| (km/s)}', '#000', 37, 'center', V90, rs('#000', 37)),
  txt(32, 1289, '{n|\u0394}{i|V}{s|L}{n| (km/s)}', '#000', 37, 'center', V90, rs('#000', 37)),
  txt(58, 1644, '{i|\u03b8}{s|W}{n| (deg)}', BLUE, 37, 'center', V90, rs(BLUE, 37)),
  // right axis titles
  txt(1687, 585, '{i|T}{s|p}{n| (K)}', RED, 37, 'center', V90, rs(RED, 37)),
  txt(1683, 1642, '{i|R}{s|W}', RED, 37, 'center', V90, rs(RED, 37)),
  // component labels
  txt(1625, 119, '{i|B}{s|L}', BLUE, 34, 'left', 0, rs(BLUE, 34)),
  txt(1625, 226, '{i|B}{s|M}', GREEN, 34, 'left', 0, rs(GREEN, 34)),
  txt(1625, 331, '{i|B}{s|N}', RED, 34, 'left', 0, rs(RED, 34)),
  txt(1625, 827, '{i|V}{s|L}', BLUE, 34, 'left', 0, rs(BLUE, 34)),
  txt(1625, 932, '{i|V}{s|M}', GREEN, 34, 'left', 0, rs(GREEN, 34)),
  txt(1625, 1038, '{i|V}{s|N}', RED, 34, 'left', 0, rs(RED, 34)),
  txt(1592, 543, '{i|T}{s|p||}', RED, 34, 'right', 0, rs(RED, 34)),
  txt(1594, 610, '{i|T}{s|p\u22a5}', GREEN, 34, 'right', 0, rs(GREEN, 34)),
  // annotations
  txt(154, 552, 'Magnetosphere', RED, 35, 'left'),
  txt(154, 615, 'Magnetosheath', BLUE, 35, 'left'),
  txt(154, 1182, 'Jet Location', CYAN, 35, 'left'),
  txt(168, 1476, '{i|R}{si|w}{n|  =  0.52}', '#000', 33, 'left', 0, rs('#000', 33)),
  txt(168, 1513, '{n|\u0398}{si|w}{n|  =  37.83}', '#000', 33, 'left', 0, rs('#000', 33)),
  // x axis title and date
  txt(874.6, 1881, 'Time (UTC)', '#000', 33),
  txt(1607, 1875, '2015\u2212Sep\u221218', '#000', 32, 'right')
];

chart.setOption({
  animation: false,
  backgroundColor: '#fff',
  textStyle: { fontFamily: FF },
  grid: grids,
  xAxis: xAxes,
  yAxis: yAxes,
  legend: {
    data: ['Jet Center'], left: 1323, top: 1130,
    icon: 'rect', itemWidth: 66, itemHeight: 1.5,
    padding: [12, 14, 12, 14],
    borderColor: '#cccccc', borderWidth: 1.5, borderRadius: 8,
    backgroundColor: 'rgba(255,255,255,0.8)',
    textStyle: { fontFamily: FF, fontSize: 34, color: '#000', padding: [0, 0, 0, 22] }
  },
  series: series,
  graphic: graphics
});
</script>
</body>
</html>
